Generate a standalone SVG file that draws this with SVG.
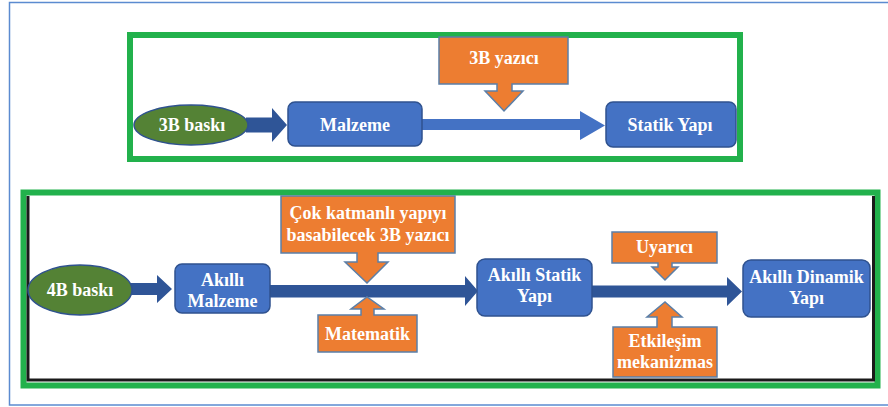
<svg xmlns="http://www.w3.org/2000/svg" width="888" height="407" viewBox="0 0 888 407">
<style>
.frame{fill:none;stroke:#22B14C;stroke-width:6}
.box{fill:#4472C4;stroke:#2F528F;stroke-width:1.5}
.ell{fill:#548235;stroke:#2F528F;stroke-width:1.5}
.call{fill:#ED7D31;stroke:#5B7FA8;stroke-width:1.5}
.dark{fill:#2F5597}
.light{fill:#4472C4}
text{font-family:"Liberation Serif","Times New Roman",serif;font-weight:bold;font-size:18px;fill:#FFFFFF;text-anchor:middle}
</style>
<rect width="888" height="407" fill="#FFFFFF"/>
<rect x="9.5" y="2.5" width="900" height="402.5" fill="none" stroke="#5B8BD0" stroke-width="1.5"/>
<g id="frame-top">
<rect class="frame" x="130" y="35" width="610" height="124" stroke-width="5"/>
</g>
<g id="frame-bottom">
<rect class="frame" x="23.5" y="192.5" width="854" height="193" stroke-width="7"/>
<path d="M28,196 V380 H873.5 V196" fill="none" stroke="#1A1A1A" stroke-width="3"/>
</g>
<g id="connectors">
<path class="dark" d="M246,117.5 H272 V108 L287,125 L272,142 V132.5 H246 Z"/>
<path class="light" d="M422,119 H580 V111 L605,125.5 L580,140 V130 H422 Z"/>
<path class="dark" d="M130,283 H157 V275 L172,289 L157,303 V295 H130 Z"/>
<path class="dark" d="M270,285 H465 V276 L478,291 L465,306 V297.5 H270 Z"/>
<path class="dark" d="M591,285.5 H727 V277 L742,291.5 L727,306 V297.5 H591 Z"/>
</g>
<g id="n-3b-baski">
<ellipse class="ell" cx="191" cy="125" rx="57" ry="20"/>
<text x="192" y="131">3B baskı</text>
</g>
<g id="n-malzeme">
<rect class="box" x="288" y="102" width="134" height="44" rx="7"/>
<text x="355" y="131">Malzeme</text>
</g>
<g id="n-3b-yazici">
<path class="call" d="M439,37 H568 V84 H512 V91 H523 L504,111 L485,91 H497 V84 H439 Z"/>
<text x="504" y="64">3B yazıcı</text>
</g>
<g id="n-statik-yapi">
<rect class="box" x="606" y="102" width="130" height="45" rx="7"/>
<text x="670" y="131">Statik Yapı</text>
</g>
<g id="n-4b-baski">
<ellipse class="ell" cx="80" cy="290" rx="52" ry="25"/>
<text x="80" y="296">4B baskı</text>
</g>
<g id="n-akilli-malzeme">
<rect class="box" x="175" y="264" width="95" height="49" rx="7"/>
<text x="222.5" y="286">Akıllı</text>
<text x="222.5" y="307">Malzeme</text>
</g>
<g id="n-cok-katmanli">
<path class="call" d="M281,196 H455 V253 H378 V262 H388 L367,283 L345,262 H357 V253 H281 Z"/>
<text x="368" y="219">Çok katmanlı yapıyı</text>
<text x="368" y="241">basabilecek 3B yazıcı</text>
</g>
<g id="n-matematik">
<path class="call" d="M318,352 H417 V315 H374 V309 H384 L367,297 L351,309 H361 V315 H318 Z"/>
<text x="367.5" y="340">Matematik</text>
</g>
<g id="n-akilli-statik">
<rect class="box" x="477" y="259" width="115" height="57" rx="8"/>
<text x="534.5" y="281">Akıllı Statik</text>
<text x="534.5" y="302">Yapı</text>
</g>
<g id="n-uyarici">
<path class="call" d="M612,232 H717 V263 H672 V267 H678 L665,280 L652,267 H658 V263 H612 Z"/>
<text x="664.5" y="253">Uyarıcı</text>
</g>
<g id="n-etkilesim">
<path class="call" d="M613,377 H717 V327 H672 V317 H682 L665,302 L647,317 H657 V327 H613 Z"/>
<text x="665" y="347">Etkileşim</text>
<text x="665" y="368">mekanizmas</text>
</g>
<g id="n-akilli-dinamik">
<rect class="box" x="743" y="260" width="127" height="57" rx="8"/>
<text x="806.5" y="283">Akıllı Dinamik</text>
<text x="806.5" y="304">Yapı</text>
</g>
</svg>
